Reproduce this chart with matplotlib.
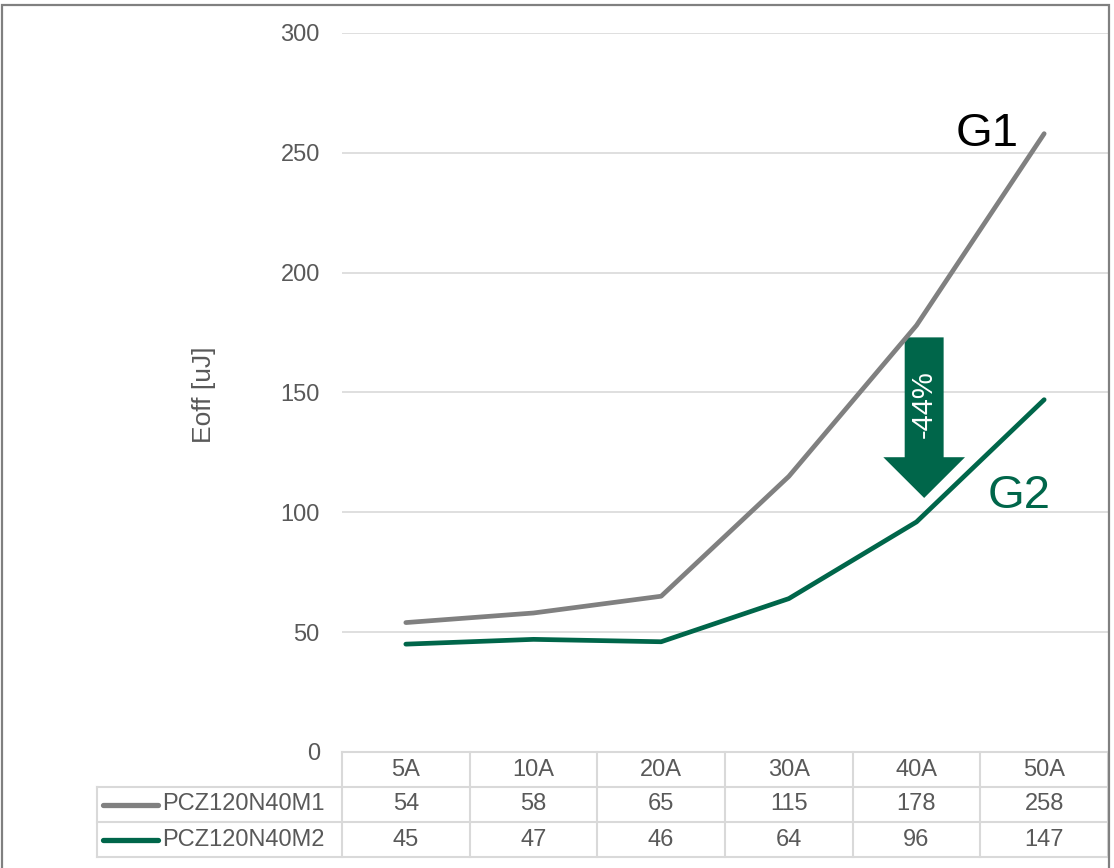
import matplotlib.pyplot as plt
from matplotlib.patches import FancyArrow, Rectangle

plt.rcParams['font.family'] = ['Liberation Sans', 'DejaVu Sans']

# Turn-off energy per current
currents = ["5A", "10A", "20A", "30A", "40A", "50A"]
m1_values = [54, 58, 65, 115, 178, 258]
m2_values = [45, 47, 46, 64, 96, 147]
series_names = ["PCZ120N40M1", "PCZ120N40M2"]
series_colors = ["#808080", "#00664A"]

W, H = 1114, 868
txt_color = "#595959"
grid_color = "#D9D9D9"
fs = 17

fig = plt.figure(figsize=(W / 100, H / 100), dpi=100)

# plot area in pixel units
px_left, px_right, px_top, px_bottom = 342, 1108, 33, 752
ax = fig.add_axes([px_left / W, 1 - px_bottom / H,
                   (px_right - px_left) / W, (px_bottom - px_top) / H])
n = len(currents)
ax.set_xlim(-0.5, n - 0.5)
ax.set_ylim(0, 300)
ax.set_yticks(range(0, 301, 50))
ax.tick_params(axis='y', length=0, pad=16, labelsize=fs, labelcolor=txt_color)
ax.set_xticks([])
for s in ax.spines.values():
    s.set_visible(False)
ax.grid(axis='y', color=grid_color, linewidth=1.2)
ax.set_axisbelow(True)

xs = list(range(n))
ax.plot(xs, m1_values, color=series_colors[0], linewidth=3.4, solid_capstyle='round')
ax.plot(xs, m2_values, color=series_colors[1], linewidth=3.4, solid_capstyle='round')

# reduction arrow between the two curves at 40A
ax.add_patch(FancyArrow(4.06, 173, 0, -67, width=0.305, head_width=0.64,
                        head_length=17, length_includes_head=True,
                        color=series_colors[1], linewidth=0))
ax.text(4.06, 145, "-44%", rotation=90, color="white", fontsize=21,
        ha='center', va='center')
ax.text(4.55, 258, "G1", color="black", fontsize=34, ha='center', va='center')
ax.text(4.80, 107, "G2", color=series_colors[1], fontsize=34, ha='center', va='center')

fig.text(204 / W, 1 - 395 / H, "Eoff [uJ]", rotation=90, color=txt_color,
         fontsize=19, ha='center', va='center')

# data table under the plot
tb_left, tb_bottom = 97, 857
col_w = (px_right - px_left) / n
tax = fig.add_axes([tb_left / W, 1 - tb_bottom / H,
                    (px_right - tb_left) / W, (tb_bottom - px_bottom) / H])
tax.set_xlim(-0.5 - (px_left - tb_left) / col_w, n - 0.5)
tax.set_ylim(3, 0)
tax.axis('off')
x0 = tax.get_xlim()[0]
lw = 1.5
# horizontal rules
tax.plot([-0.5, n - 0.5], [0, 0], color=grid_color, lw=lw, clip_on=False)
for r in (1, 2, 3):
    tax.plot([x0, n - 0.5], [r, r], color=grid_color, lw=lw, clip_on=False)
# vertical rules
tax.plot([x0, x0], [1, 3], color=grid_color, lw=lw, clip_on=False)
for i in range(n + 1):
    tax.plot([i - 0.5, i - 0.5], [0, 3], color=grid_color, lw=lw, clip_on=False)

for i, c in enumerate(currents):
    tax.text(i, 0.5, c, ha='center', va='center', color=txt_color, fontsize=fs)
for r, (name, vals, col) in enumerate(zip(series_names, [m1_values, m2_values], series_colors), start=1):
    tax.plot([x0 + 0.05, x0 + 0.48], [r + 0.5, r + 0.5], color=col, lw=3.8,
             solid_capstyle='round', clip_on=False)
    tax.text(x0 + 0.51, r + 0.5, name, ha='left', va='center', color=txt_color, fontsize=fs)
    for i, v in enumerate(vals):
        tax.text(i, r + 0.5, str(v), ha='center', va='center', color=txt_color, fontsize=fs)

# chart border
fig.add_artist(Rectangle((1.5 / W, -0.05), (1109 - 1.5) / W, 1.05 - 4.5 / H,
                         transform=fig.transFigure, fill=False,
                         edgecolor="#808080", linewidth=1.6))

fig.savefig("out.png", dpi=100)
